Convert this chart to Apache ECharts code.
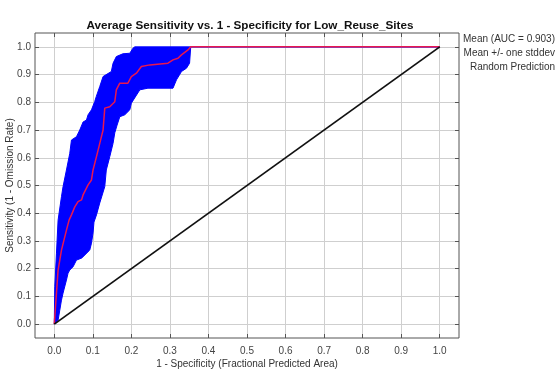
<!DOCTYPE html>
<html><head><meta charset="utf-8">
<script src="https://cdn.jsdelivr.net/npm/echarts@6/dist/echarts.min.js"></script>
<style>html,body{margin:0;padding:0;background:#fff}#c{width:558px;height:371px}</style>
</head><body><div id="c"></div>
<script>
const tickValues = [0,0.1,0.2,0.3,0.4,0.5,0.6,0.7,0.8,0.9,1.0];
// Mean ROC curve
const meanX = [0,0.0099,0.0187,0.0316,0.0384,0.0446,0.0532,0.0617,0.0706,0.0747,0.0877,0.0965,0.1006,0.1095,0.118,0.1266,0.131,0.144,0.157,0.161,0.170,0.191,0.200,0.213,0.226,0.248,0.295,0.308,0.321,0.330,0.347,0.354,1.0];
const meanY = [0,0.195,0.267,0.339,0.375,0.394,0.423,0.442,0.448,0.466,0.502,0.520,0.556,0.604,0.652,0.700,0.779,0.784,0.802,0.845,0.869,0.869,0.893,0.905,0.929,0.935,0.941,0.953,0.959,0.971,0.989,1.0,1.0];
// Mean + one stddev (upper edge of band)
const upperX = [0,0.0013,0.0057,0.0099,0.0187,0.0228,0.0316,0.0402,0.0446,0.0576,0.0661,0.0747,0.0835,0.0877,0.0965,0.105,0.109,0.118,0.1266,0.148,0.1525,0.161,0.178,0.196,0.204,0.209,0.354,1.0];
const upperY = [0,0.135,0.256,0.375,0.460,0.496,0.556,0.616,0.664,0.676,0.700,0.729,0.736,0.755,0.773,0.803,0.821,0.857,0.893,0.911,0.941,0.965,0.975,0.977,0.995,1.0,1.0,1.0];
// Mean - one stddev (lower edge of band)
const lowerX = [0,0.0099,0.0143,0.0187,0.0228,0.0316,0.0358,0.0402,0.0488,0.0576,0.0706,0.0747,0.092,0.0965,0.1006,0.103,0.1095,0.118,0.131,0.135,0.144,0.1525,0.157,0.163,0.170,0.183,0.196,0.200,0.222,0.243,0.308,0.317,0.330,0.343,0.351,0.354,1.0];
const lowerY = [0,0.0144,0.0505,0.0866,0.112,0.159,0.184,0.195,0.207,0.231,0.238,0.243,0.267,0.292,0.329,0.368,0.394,0.437,0.496,0.556,0.604,0.652,0.690,0.718,0.748,0.755,0.773,0.797,0.845,0.851,0.851,0.881,0.911,0.923,0.941,1.0,1.0];
// Random prediction
const randomX = [0,1];
const randomY = [0,1];

const titleText = 'Average Sensitivity vs. 1 - Specificity for Low_Reuse_Sites';
const legendTexts = ['Mean (AUC = 0.903)','Mean +/- one stddev','Random Prediction'];

const FONT = 'Liberation Sans, Arial, sans-serif';
const chart = echarts.init(document.getElementById('c'), null, {renderer:'canvas'});
const zip = (a,b)=>a.map((v,i)=>[v,b[i]]);
const fmt = v => v.toFixed(1);

const axisCommon = {
  type:'value', min:-0.05, max:1.05,
  axisLine:{show:false, onZero:false},
  axisTick:{show:true, inside:true, length:4, customValues:tickValues, lineStyle:{color:'#555'}},
  splitLine:{show:false},
  axisLabel:{show:false}
};

const option = {
  animation:false,
  backgroundColor:'#fff',
  textStyle:{fontFamily:FONT},
  title:{text:titleText, left:245, textAlign:'center', top:15,
    textStyle:{fontSize:11.7, fontWeight:'bold', color:'#111', fontFamily:FONT}},
  grid:{left:35, right:99, top:33, height:305, containLabel:false, outerBoundsMode:'none',
    show:true, borderColor:'#555', borderWidth:1, backgroundColor:'#fff'},
  xAxis:[
    Object.assign({}, axisCommon, {position:'bottom',
      name:'1 - Specificity (Fractional Predicted Area)', nameLocation:'middle', nameGap:21, nameMoveOverlap:false,
      nameTextStyle:{fontSize:10, color:'#333', fontFamily:FONT},
      splitLine:{show:true, lineStyle:{color:'#cfcfcf', width:1}},
      axisLabel:{show:true, customValues:tickValues, formatter:fmt, fontSize:10, color:'#444', margin:8, fontFamily:FONT}}),
    Object.assign({}, axisCommon, {position:'top'})
  ],
  yAxis:[
    Object.assign({}, axisCommon, {position:'left',
      name:'Sensitivity (1 - Omission Rate)', nameLocation:'middle', nameGap:20, nameMoveOverlap:false,
      nameTextStyle:{fontSize:10, color:'#333', fontFamily:FONT},
      splitLine:{show:true, lineStyle:{color:'#cfcfcf', width:1}},
      axisLabel:{show:true, customValues:tickValues, formatter:fmt, fontSize:10, color:'#444', margin:4, fontFamily:FONT}}),
    Object.assign({}, axisCommon, {position:'right'})
  ],
  graphic: legendTexts.map((t,i)=>({
    type:'text', right:3, top:34+i*14,
    style:{text:t, fill:'#333', font:'10px '+FONT, textAlign:'right'}
  })),
  series:[
    {
      type:'custom', name:'band', xAxisIndex:0, yAxisIndex:0,
      data:[[0,0]],
      renderItem:function(params, api){
        const pts = [];
        for (let i=0;i<upperX.length;i++) pts.push(api.coord([upperX[i], upperY[i]]));
        for (let i=lowerX.length-1;i>=0;i--) pts.push(api.coord([lowerX[i], lowerY[i]]));
        return {type:'polygon', shape:{points:pts}, style:{fill:'#0000ff', stroke:'#0000ff', lineWidth:1}};
      },
      z:2, silent:true
    },
    {
      type:'line', name:'mean', data:zip(meanX,meanY), showSymbol:false, symbol:'none',
      lineStyle:{color:'#e8174f', width:1.5}, z:3
    },
    {
      type:'line', name:'random', data:zip(randomX,randomY), showSymbol:false, symbol:'none',
      lineStyle:{color:'#111', width:1.8}, z:4
    }
  ]
};
chart.setOption(option);
</script>
</body></html>
